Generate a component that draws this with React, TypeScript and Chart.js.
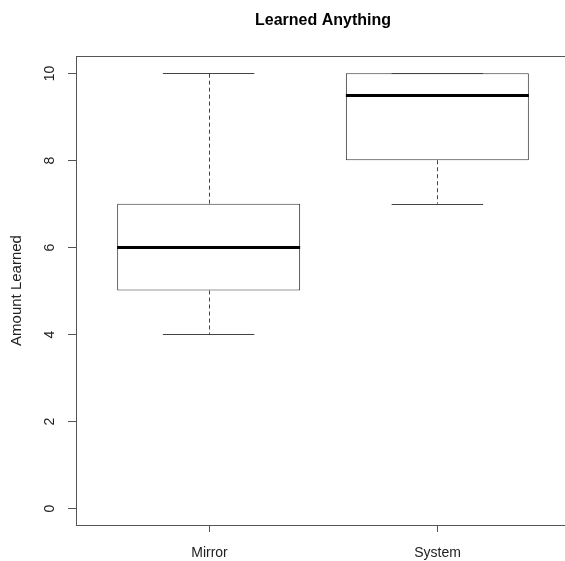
import React, { useEffect, useRef } from "react";
import { Chart, registerables } from "chart.js";

Chart.register(...registerables);

const TITLE = "Learned Anything";
const Y_TITLE = "Amount Learned";
const CATEGORIES = ["Mirror", "System"];
const MINS = [4, 7];
const Q1S = [5, 8];
const MEDIANS = [6, 9.5];
const Q3S = [7, 10];
const MAXS = [10, 10];
const Y_TICKS = [0, 2, 4, 6, 8, 10];

const FONT = "'Liberation Sans', Arial, Helvetica, sans-serif";

const boxPlugin = {
  id: "rbox",
  afterDatasetsDraw(chart: any) {
    const { ctx, chartArea, scales } = chart;
    const xs = scales.x;
    const ys = scales.y;
    ctx.save();
    CATEGORIES.forEach((_, i) => {
      const cx = Math.round(xs.getPixelForValue(i + 1)) + 0.5;
      const capL = xs.getPixelForValue(i + 1 - 0.2);
      const capR = xs.getPixelForValue(i + 1 + 0.2);
      const boxL = xs.getPixelForValue(i + 1 - 0.4);
      const boxR = xs.getPixelForValue(i + 1 + 0.4);
      ctx.strokeStyle = "#444";
      ctx.lineWidth = 1;
      ctx.setLineDash([4, 3]);
      ctx.beginPath();
      ctx.moveTo(cx, ys.getPixelForValue(Q3S[i]));
      ctx.lineTo(cx, ys.getPixelForValue(MAXS[i]));
      ctx.moveTo(cx, ys.getPixelForValue(Q1S[i]));
      ctx.lineTo(cx, ys.getPixelForValue(MINS[i]));
      ctx.stroke();
      ctx.setLineDash([]);
      ctx.beginPath();
      const yMax = Math.round(ys.getPixelForValue(MAXS[i])) + 0.5;
      const yMin = Math.round(ys.getPixelForValue(MINS[i])) + 0.5;
      ctx.moveTo(capL, yMax);
      ctx.lineTo(capR, yMax);
      ctx.moveTo(capL, yMin);
      ctx.lineTo(capR, yMin);
      ctx.stroke();
      ctx.strokeStyle = "#000";
      ctx.lineWidth = 3;
      ctx.beginPath();
      const ym = Math.round(ys.getPixelForValue(MEDIANS[i])) + 0.5;
      ctx.moveTo(boxL, ym);
      ctx.lineTo(boxR, ym);
      ctx.stroke();
    });
    ctx.strokeStyle = "#555";
    ctx.lineWidth = 1;
    ctx.strokeRect(
      Math.round(chartArea.left) + 0.5,
      Math.round(chartArea.top) + 0.5,
      Math.round(chartArea.right - chartArea.left),
      Math.round(chartArea.bottom - chartArea.top)
    );
    ctx.fillStyle = "#222";
    ctx.font = `14px ${FONT}`;
    ys.ticks.forEach((t: any) => {
      const y = Math.round(ys.getPixelForValue(t.value)) + 0.5;
      ctx.beginPath();
      ctx.moveTo(chartArea.left - 8, y);
      ctx.lineTo(chartArea.left, y);
      ctx.stroke();
      ctx.save();
      ctx.translate(chartArea.left - 26, y);
      ctx.rotate(-Math.PI / 2);
      ctx.textAlign = "center";
      ctx.textBaseline = "middle";
      ctx.fillText(String(t.value), 0, 0);
      ctx.restore();
    });
    xs.ticks.forEach((t: any, i: number) => {
      const x = Math.round(xs.getPixelForValue(t.value)) + 0.5;
      ctx.beginPath();
      ctx.moveTo(x, chartArea.bottom);
      ctx.lineTo(x, chartArea.bottom + 7);
      ctx.stroke();
      ctx.textAlign = "center";
      ctx.textBaseline = "middle";
      ctx.fillText(CATEGORIES[i], x, chartArea.bottom + 28);
    });
    ctx.save();
    ctx.font = `15px ${FONT}`;
    ctx.translate(17, (chartArea.top + chartArea.bottom) / 2);
    ctx.rotate(-Math.PI / 2);
    ctx.textAlign = "center";
    ctx.textBaseline = "middle";
    ctx.fillText(Y_TITLE, 0, 0);
    ctx.restore();
    ctx.fillStyle = "#000";
    ctx.font = `bold 16px ${FONT}`;
    ctx.textAlign = "center";
    ctx.textBaseline = "middle";
    ctx.fillText(TITLE, (chartArea.left + chartArea.right) / 2, 21);
    ctx.restore();
  },
};

export default function App() {
  const ref = useRef<HTMLCanvasElement>(null);
  useEffect(() => {
    if (!ref.current) return;
    const chart = new Chart(ref.current, {
      type: "bar",
      data: {
        datasets: [
          {
            data: CATEGORIES.map((_, i) => ({ x: i + 1, y: [Q1S[i], Q3S[i]] })) as any,
            backgroundColor: "#ffffff",
            borderColor: "#333",
            borderWidth: 1,
            borderSkipped: false,
            barPercentage: 1,
            categoryPercentage: 0.8,
          },
        ],
      },
      options: {
        animation: false,
        responsive: false,
        layout: { padding: { top: 56, right: 20, left: 0, bottom: 0 } },
        plugins: { legend: { display: false }, tooltip: { enabled: false }, title: { display: false } },
        scales: {
          x: {
            type: "linear",
            min: 0.42,
            max: 2.58,
            offset: false,
            grid: { display: false, offset: false },
            border: { display: false },
            ticks: { display: false },
            afterBuildTicks: (s: any) => {
              s.ticks = CATEGORIES.map((_, i) => ({ value: i + 1 }));
            },
            afterFit: (s: any) => {
              s.height = 36;
            },
          },
          y: {
            type: "linear",
            min: -0.4,
            max: 10.4,
            grid: { display: false },
            border: { display: false },
            ticks: { display: false },
            afterBuildTicks: (s: any) => {
              s.ticks = Y_TICKS.map((v) => ({ value: v }));
            },
            afterFit: (s: any) => {
              s.width = 76;
            },
          },
        },
      },
      plugins: [boxPlugin],
    });
    return () => chart.destroy();
  }, []);
  return (
    <div
      style={{
        position: "fixed",
        left: 0,
        top: 0,
        width: 565,
        height: 561,
        overflow: "hidden",
        background: "#fff",
      }}
    >
      <canvas ref={ref} width={590} height={561} style={{ display: "block" }} />
    </div>
  );
}
